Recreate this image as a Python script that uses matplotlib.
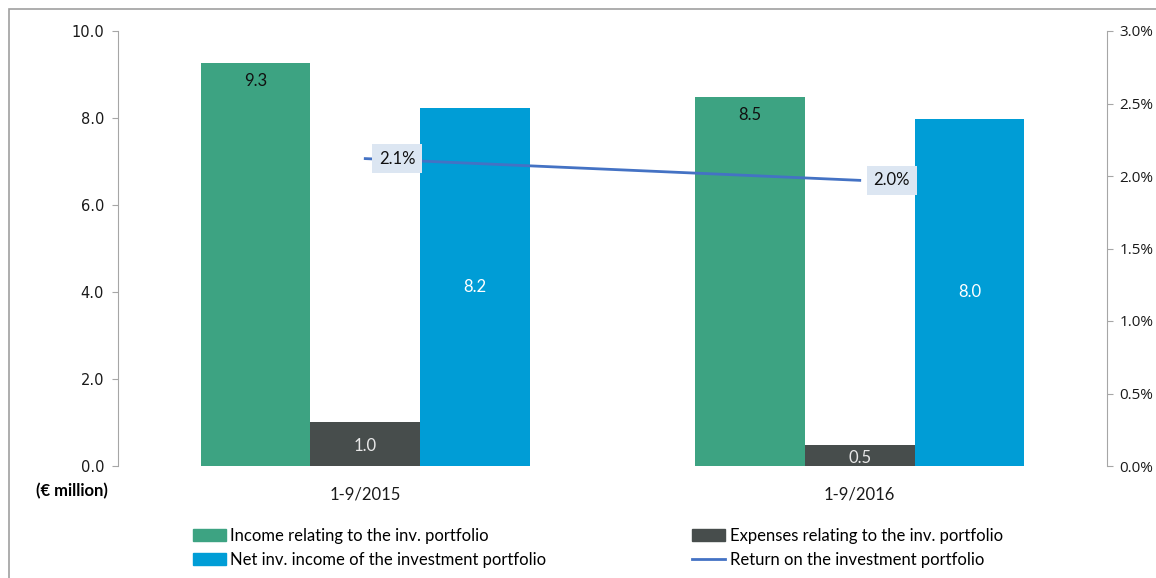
import matplotlib
matplotlib.use("Agg")
import matplotlib.pyplot as plt
import numpy as np
from matplotlib.patches import Rectangle, Patch
from matplotlib.lines import Line2D
from matplotlib.ticker import FuncFormatter

categories = ["1-9/2015", "1-9/2016"]
income = [9.26, 8.48]
expenses = [1.01, 0.48]
net_income = [8.23, 7.98]
ret = [2.12, 1.97]
income_labels = ["9.3", "8.5"]
expenses_labels = ["1.0", "0.5"]
net_labels = ["8.2", "8.0"]
ret_labels = ["2.1%", "2.0%"]

C_GREEN = "#3DA382"
C_DARK = "#474D4C"
C_BLUE = "#009DD6"
C_LINE = "#4472C4"
C_AX = "#A6A6A6"

LBL_FONT = ["Lato", "DejaVu Sans"]

fig = plt.figure(figsize=(11.56, 5.78), dpi=100)
W, H = 1156, 578

# outer frame
fig.patches.append(Rectangle((9 / W, -0.1), 1.2, 1 - 9 / H + 0.1, transform=fig.transFigure,
                             fill=False, edgecolor="#A0A0A0", lw=1.2, clip_on=False))

ax = fig.add_axes([118 / W, 1 - 466 / H, (1107 - 118) / W, (466 - 31) / H])
x = np.arange(len(categories))
bw = 0.222
b1 = ax.bar(x - bw, income, bw, color=C_GREEN, zorder=2)
b2 = ax.bar(x, expenses, bw, color=C_DARK, zorder=2)
b3 = ax.bar(x + bw, net_income, bw, color=C_BLUE, zorder=2)

ax.set_xlim(-0.5, 1.5)
ax.set_ylim(0, 10)
ax.set_yticks(np.arange(0, 10.1, 2))
ax.yaxis.set_major_formatter(FuncFormatter(lambda v, p: f"{v:.1f}"))
ax.set_xticks(x)
ax.set_xticklabels(categories, fontsize=12, family=LBL_FONT, color="#1a1a1a")
ax.tick_params(axis="x", length=0, pad=15)
ax.tick_params(axis="y", direction="out", length=4, color=C_AX, pad=6,
               labelsize=10.5, labelcolor="#1a1a1a")
for s in ["top", "right", "bottom"]:
    ax.spines[s].set_visible(False)
ax.spines["left"].set_color(C_AX)

for rect, lab in zip(b1, income_labels):
    ax.text(rect.get_x() + rect.get_width() / 2, rect.get_height() - 0.42, lab,
            ha="center", va="center", fontsize=12, family=LBL_FONT, color="#111111")
for rect, lab in zip(b2, expenses_labels):
    ax.text(rect.get_x() + rect.get_width() / 2, rect.get_height() / 2 - 0.05, lab,
            ha="center", va="center", fontsize=12, family=LBL_FONT, color="#E8E8E8")
for rect, lab in zip(b3, net_labels):
    ax.text(rect.get_x() + rect.get_width() / 2, rect.get_height() / 2, lab,
            ha="center", va="center", fontsize=12, family=LBL_FONT, color="white")

ax2 = ax.twinx()
ax2.set_ylim(0, 3.0)
ax2.set_yticks(np.arange(0, 3.01, 0.5))
ax2.set_yticklabels([f"{v:.1f}%" for v in np.arange(0, 3.01, 0.5)],
                    family=["Open Sans", "DejaVu Sans"], fontsize=11, color="#1a1a1a")
ax2.tick_params(axis="y", direction="out", length=4, color=C_AX, pad=5)
for s in ["top", "left", "bottom"]:
    ax2.spines[s].set_visible(False)
ax2.spines["right"].set_color(C_AX)
ax2.plot(x, ret, color=C_LINE, lw=2, zorder=3)
for xi, yi, lab in zip(x, ret, ret_labels):
    ax2.annotate(lab, (xi, yi), xytext=(10, 0), textcoords="offset points",
                 ha="left", va="center", fontsize=12, family=LBL_FONT, color="#111111",
                 bbox=dict(boxstyle="square,pad=0.4", facecolor="#DCE6F2", edgecolor="none"),
                 zorder=4)

fig.text(72 / W, 1 - 491 / H, "(€ million)", ha="center", va="center",
         fontsize=12, fontweight="bold", family=LBL_FONT)

common = dict(frameon=False, handlelength=2.0, handleheight=0.7,
              handletextpad=0.25, labelspacing=0.45, borderaxespad=0, borderpad=0,
              prop={"family": LBL_FONT, "size": 12})
h1 = [Patch(color=C_GREEN), Patch(color=C_BLUE)]
l1 = ["Income relating to the inv. portfolio", "Net inv. income of the investment portfolio"]
h2 = [Patch(color=C_DARK), Line2D([], [], color=C_LINE, lw=2)]
l2 = ["Expenses relating to the inv. portfolio", "Return on the investment portfolio"]
fig.legend(h1, l1, loc="upper left", bbox_to_anchor=(193 / W, 1 - 528 / H), **common)
fig.legend(h2, l2, loc="upper left", bbox_to_anchor=(692 / W, 1 - 528 / H), **common)

fig.savefig("out.png", dpi=100)
